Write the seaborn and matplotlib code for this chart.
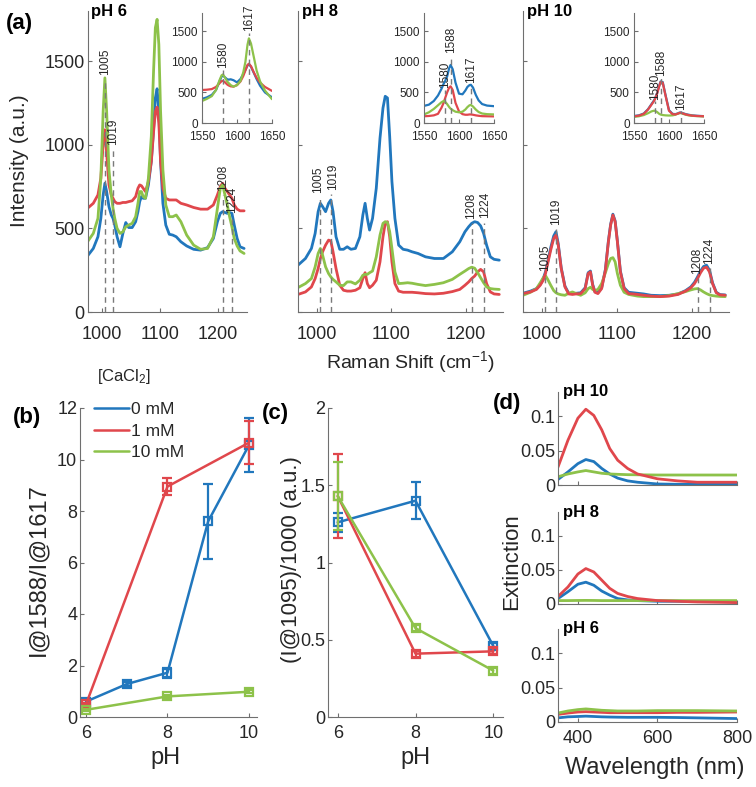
import matplotlib
matplotlib.use("Agg")
import matplotlib.pyplot as plt
import seaborn as sns
from matplotlib.lines import Line2D

# ---------------- data ----------------
# (a) Raman spectra, x in cm-1, intensity in a.u.
RAMAN_X = [975, 985, 993, 998, 1002, 1005, 1008, 1012, 1016, 1019, 1022, 1026, 1031,
           1036, 1041, 1046, 1052, 1058, 1062, 1065, 1068, 1071, 1075, 1080, 1085,
           1089, 1092, 1095, 1098, 1101, 1105, 1110, 1116, 1122, 1128, 1136, 1146,
           1158, 1170, 1182, 1192, 1199, 1204, 1208, 1212, 1216, 1220, 1224, 1228,
           1233, 1238, 1245]

PH6_BLUE = [335, 380, 450, 560, 700, 770, 720, 630, 580, 560, 520, 450, 390,
            470, 535, 505, 505, 540, 600, 660, 690, 680, 680, 760, 900,
            1100, 1280, 1335, 1200, 900, 650, 520, 465, 460, 450, 420, 395,
            375, 370, 385, 440, 540, 590, 600, 595, 590, 595, 590, 520,
            440, 390, 380]
PH6_RED = [620, 650, 700, 800, 1000, 1090, 950, 760, 700, 680, 660, 650, 650,
           655, 655, 660, 665, 690, 740, 760, 755, 740, 720, 780, 900,
           1080, 1200, 1225, 1130, 900, 740, 680, 670, 670, 670, 650, 640,
           625, 615, 615, 640, 700, 750, 770, 740, 720, 700, 680, 640,
           615, 605, 605]
PH6_GREEN = [420, 470, 560, 800, 1200, 1400, 1200, 850, 700, 620, 560, 500, 470,
             480, 510, 520, 530, 570, 650, 720, 720, 690, 680, 800, 1050,
             1450, 1700, 1750, 1600, 1200, 850, 640, 570, 570, 580, 540, 460,
             400, 375, 380, 450, 620, 740, 760, 700, 640, 570, 510, 440,
             395, 365, 350]

PH8_BLUE = [280, 320, 380, 470, 600, 650, 630, 600, 650, 670, 600, 450, 375,
            375, 390, 375, 380, 450, 580, 650, 560, 490, 560, 740, 1040,
            1220, 1290, 1280, 1050, 780, 560, 400, 375, 370, 360, 350, 330,
            320, 320, 360, 420, 480, 510, 530, 540, 535, 515, 470, 400,
            330, 315, 310]
PH8_RED = [105, 120, 150, 200, 260, 320, 360, 400, 430, 425, 360, 260, 160,
           130, 125, 125, 130, 145, 200, 235, 170, 145, 160, 190, 300,
           450, 530, 540, 450, 300, 170, 125, 118, 118, 118, 115, 110,
           108, 112, 122, 135, 160, 180, 200, 215, 240, 255, 240, 170,
           120, 108, 105]
PH8_GREEN = [146, 170, 200, 270, 350, 380, 340, 270, 230, 210, 195, 180, 160,
             158, 180, 180, 168, 190, 220, 225, 225, 235, 245, 330, 460,
             530, 540, 535, 480, 380, 240, 170, 172, 175, 172, 165, 158,
             165, 175, 195, 225, 245, 260, 268, 262, 235, 205, 175, 150,
             140, 137, 135]

PH10_BLUE = [112, 125, 140, 165, 200, 240, 300, 385, 455, 480, 410, 265, 155,
             112, 110, 112, 115, 145, 235, 245, 165, 122, 115, 145, 255,
             425, 525, 585, 545, 425, 245, 145, 118, 115, 112, 108, 100,
             98, 100, 108, 128, 150, 178, 210, 245, 272, 280, 250, 175,
             118, 104, 102]
PH10_RED = [110, 120, 135, 160, 190, 230, 290, 370, 440, 460, 400, 260, 150,
            108, 105, 108, 110, 140, 230, 240, 160, 118, 110, 140, 250,
            420, 520, 580, 540, 420, 240, 140, 110, 108, 105, 100, 95,
            92, 95, 105, 125, 145, 170, 200, 235, 262, 268, 240, 170,
            115, 102, 100]
PH10_GREEN = [100, 118, 140, 175, 205, 218, 195, 160, 128, 115, 108, 103, 100,
              112, 120, 110, 100, 115, 140, 148, 135, 128, 135, 170, 235,
              290, 320, 325, 300, 230, 160, 118, 105, 100, 95, 92, 92,
              92, 98, 110, 122, 132, 138, 140, 132, 120, 110, 102, 98,
              95, 93, 92]

# insets, 1550-1650 cm-1
INSET_X = [1550, 1557, 1564, 1570, 1575, 1578, 1580, 1583, 1586, 1588, 1591, 1595,
           1600, 1605, 1609, 1612, 1615, 1617, 1620, 1624, 1628, 1633, 1640, 1650]
IN6_BLUE = [395, 420, 460, 540, 680, 760, 775, 745, 715, 710, 715, 700,
            665, 720, 800, 870, 940, 960, 920, 820, 720, 610, 500, 420]
IN6_RED = [540, 545, 555, 590, 650, 685, 690, 665, 630, 615, 600, 595,
           620, 680, 770, 860, 950, 970, 930, 830, 740, 660, 590, 525]
IN6_GREEN = [360, 395, 440, 540, 700, 780, 795, 740, 680, 655, 620, 595,
             620, 690, 830, 1000, 1280, 1385, 1300, 1080, 860, 680, 530, 390]
IN8_BLUE = [280, 300, 360, 450, 560, 640, 680, 760, 900, 950, 880, 660,
            480, 470, 530, 590, 620, 625, 580, 460, 370, 310, 285, 275]
IN8_RED = [110, 115, 125, 150, 250, 330, 400, 500, 580, 600, 540, 330,
           190, 145, 135, 135, 140, 140, 135, 125, 118, 112, 110, 108]
IN8_GREEN = [140, 175, 230, 290, 340, 360, 350, 310, 260, 235, 210, 185,
             175, 185, 220, 260, 290, 295, 270, 220, 180, 155, 145, 140]
IN10_BLUE = [115, 125, 155, 225, 310, 360, 400, 490, 610, 680, 670, 460,
             210, 150, 145, 155, 170, 172, 160, 145, 135, 125, 118, 112]
IN10_RED = [110, 120, 150, 220, 300, 350, 390, 480, 600, 670, 660, 450,
            200, 145, 140, 150, 165, 168, 155, 140, 130, 120, 115, 110]
IN10_GREEN = [100, 110, 130, 160, 190, 200, 200, 180, 150, 138, 130, 125,
              122, 125, 135, 150, 160, 162, 150, 135, 125, 118, 112, 108]

PEAKS = [1005, 1019, 1208, 1224]
PEAK_Y6 = [1420, 1000, 725, 590]
PEAK_Y8 = [711, 730, 555, 560]
PEAK_Y10 = [247, 520, 228, 286]
IN_PEAKS6 = [1580, 1617]
IN_PEAK_Y6 = [900, 1500]
IN_PEAKS = [1580, 1588, 1617]
IN_PEAK_Y8 = [574, 1150, 656]
IN_PEAK_Y10 = [383, 765, 219]

# (b) I@1588/I@1617 vs pH
B_PH_BLUE = [6, 7, 8, 9, 10]
B_BLUE = [0.6, 1.28, 1.72, 7.6, 10.55]
B_BLUE_ERR = [0.08, 0.08, 0.2, 1.45, 1.05]
B_PH = [6, 8, 10]
B_RED = [0.5, 8.95, 10.65]
B_RED_ERR = [0.05, 0.32, 0.83]
B_GREEN = [0.28, 0.8, 0.98]
B_GREEN_ERR = [0.05, 0.06, 0.05]

# (c) (I@1095)/1000 vs pH
C_PH = [6, 8, 10]
C_BLUE = [1.26, 1.40, 0.46]
C_BLUE_ERR = [0.06, 0.12, 0.02]
C_RED = [1.43, 0.41, 0.425]
C_RED_ERR = [0.27, 0.02, 0.02]
C_GREEN = [1.43, 0.575, 0.30]
C_GREEN_ERR = [0.22, 0.02, 0.02]

# (d) extinction spectra
WL = [350, 375, 400, 420, 440, 460, 480, 500, 525, 550, 600, 650, 700, 800]
EXT10_RED = [0.026, 0.065, 0.097, 0.110, 0.101, 0.080, 0.053, 0.036, 0.024, 0.016, 0.009, 0.006, 0.004, 0.004]
EXT10_BLUE = [0.008, 0.019, 0.031, 0.037, 0.034, 0.024, 0.016, 0.010, 0.006, 0.004, 0.0015, 0.001, 0.001, 0.001]
EXT10_GREEN = [0.012, 0.016, 0.019, 0.021, 0.019, 0.017, 0.016, 0.0155, 0.015, 0.0148, 0.0145, 0.0145, 0.0145, 0.0145]
EXT8_RED = [0.011, 0.025, 0.044, 0.052, 0.047, 0.035, 0.023, 0.0155, 0.011, 0.008, 0.005, 0.004, 0.003, 0.002]
EXT8_BLUE = [0.008, 0.018, 0.029, 0.032, 0.0275, 0.019, 0.013, 0.008, 0.006, 0.005, 0.004, 0.004, 0.0035, 0.0035]
EXT8_GREEN = [0.005, 0.005, 0.0052, 0.0053, 0.0052, 0.005, 0.005, 0.005, 0.005, 0.005, 0.005, 0.005, 0.005, 0.005]
EXT6_RED = [0.011, 0.013, 0.0145, 0.015, 0.0145, 0.014, 0.0135, 0.0135, 0.0135, 0.0135, 0.0135, 0.014, 0.014, 0.0145]
EXT6_BLUE = [0.006, 0.0075, 0.008, 0.0085, 0.008, 0.0075, 0.0072, 0.007, 0.0068, 0.0068, 0.0068, 0.0065, 0.006, 0.005]
EXT6_GREEN = [0.013, 0.016, 0.018, 0.019, 0.018, 0.017, 0.0165, 0.016, 0.016, 0.016, 0.0165, 0.0165, 0.0165, 0.016]

LEGEND_LABELS = ["0 mM", "1 mM", "10 mM"]

# ---------------- style ----------------
sns.set_style("ticks")
plt.rcParams['font.family'] = ['Liberation Sans', 'DejaVu Sans']
plt.rcParams['mathtext.fontset'] = 'custom'
plt.rcParams['mathtext.rm'] = 'Liberation Sans'
plt.rcParams['mathtext.it'] = 'Liberation Sans:italic'

BLUE, RED, GREEN = "#2177BD", "#E0474C", "#8DC24A"
AX_GRAY = "#6f6f6f"
TXT = "#262626"
DASH = "#7a7a7a"
W, H = 756, 787

fig = plt.figure(figsize=(W / 100, H / 100), dpi=100)


def px_axes(left, top, right, bottom):
    return fig.add_axes([left / W, 1 - bottom / H, (right - left) / W, (bottom - top) / H])


def px_text(x, y, s, **kw):
    kw.setdefault("color", TXT)
    fig.text(x / W, 1 - y / H, s, ha=kw.pop("ha", "center"), va=kw.pop("va", "center"), **kw)


def style(ax, size=13, pad=2, xpad=6):
    sns.despine(ax=ax)
    for s in ["left", "bottom"]:
        ax.spines[s].set_color(AX_GRAY)
        ax.spines[s].set_linewidth(0.8)
    ax.tick_params(direction="in", length=3, width=0.8, color=AX_GRAY,
                   labelcolor=TXT, labelsize=size, pad=pad)
    ax.tick_params(axis="x", pad=xpad)
    ax.patch.set_alpha(0)
    ax.set_xlabel("")
    ax.set_ylabel("")


def spectrum(ax, x, series, lw=2.0):
    for y, c in series:
        sns.lineplot(x=x, y=y, ax=ax, color=c, lw=lw, legend=False)


def peak_marks(ax, xs, ys, size=8.5, gap=25, nudge=None):
    nudge = nudge or [0] * len(xs)
    for xp, yp, dx in zip(xs, ys, nudge):
        ax.plot([xp, xp], [0, yp - gap], color=DASH, lw=1, ls=(0, (4, 3)), zorder=5)
        ax.text(xp + dx, yp, str(xp), rotation=90, ha="center", va="bottom",
                fontsize=size, color=TXT, zorder=6)


# ---------------- (a) Raman ----------------
panels = [
    ("pH 6", (87.5, 11, 247, 312), [(PH6_BLUE, BLUE), (PH6_RED, RED), (PH6_GREEN, GREEN)], PEAK_Y6, None,
     (202, 13, 272, 123), [(IN6_BLUE, BLUE), (IN6_RED, RED), (IN6_GREEN, GREEN)], IN_PEAKS6, IN_PEAK_Y6, True),
    ("pH 8", (298, 11, 503, 312), [(PH8_BLUE, BLUE), (PH8_RED, RED), (PH8_GREEN, GREEN)], PEAK_Y8, [-2.5, 2.5, -1.5, 1.5],
     (424, 13, 494, 123), [(IN8_BLUE, BLUE), (IN8_RED, RED), (IN8_GREEN, GREEN)], IN_PEAKS, IN_PEAK_Y8, False),
    ("pH 10", (523, 11, 729, 312), [(PH10_BLUE, BLUE), (PH10_GREEN, GREEN), (PH10_RED, RED)], PEAK_Y10, None,
     (634, 13, 704, 123), [(IN10_BLUE, BLUE), (IN10_GREEN, GREEN), (IN10_RED, RED)], IN_PEAKS, IN_PEAK_Y10, False),
]

for title, box, series, peak_y, nudge, ibox, iseries, ipeaks, ipeak_y, show_y in panels:
    ax = px_axes(*box)
    spectrum(ax, RAMAN_X, series)
    peak_marks(ax, PEAKS, peak_y, size=8.5, nudge=nudge)
    ax.set_xlim(975, 1250)
    ax.set_ylim(0, 1800)
    ax.set_xticks([1000, 1100, 1200])
    ax.set_yticks([0, 500, 1000, 1500])
    style(ax, xpad=10)
    if not show_y:
        ax.set_yticklabels([])
    ax.text(0.02, 1.0, title, transform=ax.transAxes, fontsize=12, fontweight="bold",
            ha="left", va="center", color="black")

    iax = px_axes(*ibox)
    spectrum(iax, INSET_X, iseries, lw=1.6)
    peak_marks(iax, ipeaks, ipeak_y, size=8.5, gap=30)
    iax.set_xlim(1550, 1650)
    iax.set_ylim(0, 1800)
    iax.set_xticks([1550, 1600, 1650])
    iax.set_yticks([0, 500, 1000, 1500])
    style(iax, size=8.5, pad=3, xpad=6)

px_text(19, 24, "(a)", fontsize=16, fontweight="bold", color="black")
px_text(20, 161, "Intensity (a.u.)", fontsize=15, rotation=90)
px_text(410, 362, "Raman Shift (cm$^{-1}$)", fontsize=14)

# ---------------- (b) ----------------
axb = px_axes(80, 408, 257, 717)
for xs, ys, es, c in [(B_PH_BLUE, B_BLUE, B_BLUE_ERR, BLUE),
                      (B_PH, B_RED, B_RED_ERR, RED),
                      (B_PH, B_GREEN, B_GREEN_ERR, GREEN)]:
    sns.lineplot(x=xs, y=ys, ax=axb, color=c, lw=1.8, marker="s", markersize=6,
                 markerfacecolor="none", markeredgecolor=c, markeredgewidth=1.6, legend=False)
    axb.errorbar(xs, ys, yerr=es, fmt="none", ecolor=c, elinewidth=1.6, capsize=3.5, capthick=1.6)
axb.set_xlim(5.85, 10.2)
axb.set_ylim(0, 12)
axb.set_xticks([6, 8, 10])
axb.set_yticks([0, 2, 4, 6, 8, 10, 12])
style(axb)
handles = [Line2D([], [], color=c, lw=1.8) for c in (BLUE, RED, GREEN)]
axb.legend(handles, LEGEND_LABELS, loc="upper left", bbox_to_anchor=(0.08, 1.02), frameon=False,
           fontsize=12.5, handlelength=2.0, handletextpad=0.15, labelspacing=0.38,
           borderpad=0, borderaxespad=0, labelcolor=TXT)
px_text(124, 377, "[CaCl$_2$]", fontsize=12)
px_text(27, 418, "(b)", fontsize=16, fontweight="bold", color="black")
px_text(38, 570, "I@1588/I@1617", fontsize=17, rotation=90)
px_text(166, 758, "pH", fontsize=17)

# ---------------- (c) ----------------
axc = px_axes(328, 408, 503, 717)
for ys, es, c in [(C_BLUE, C_BLUE_ERR, BLUE), (C_RED, C_RED_ERR, RED), (C_GREEN, C_GREEN_ERR, GREEN)]:
    sns.lineplot(x=C_PH, y=ys, ax=axc, color=c, lw=1.8, marker="s", markersize=6,
                 markerfacecolor="none", markeredgecolor=c, markeredgewidth=1.6, legend=False)
    axc.errorbar(C_PH, ys, yerr=es, fmt="none", ecolor=c, elinewidth=1.6, capsize=3.5, capthick=1.6)
axc.set_xlim(5.75, 10.25)
axc.set_ylim(0, 2)
axc.set_xticks([6, 8, 10])
axc.set_yticks([0, 0.5, 1, 1.5, 2])
axc.set_yticklabels(["0", "0.5", "1", "1.5", "2"])
style(axc)
px_text(275, 413, "(c)", fontsize=16, fontweight="bold", color="black")
px_text(292, 560, "(I@1095)/1000 (a.u.)", fontsize=16, rotation=90)
px_text(415, 758, "pH", fontsize=17)

# ---------------- (d) ----------------
d_panels = [("pH 10", (558, 392, 737, 485), [(EXT10_BLUE, BLUE), (EXT10_GREEN, GREEN), (EXT10_RED, RED)]),
            ("pH 8", (558, 512, 737, 604), [(EXT8_BLUE, BLUE), (EXT8_GREEN, GREEN), (EXT8_RED, RED)]),
            ("pH 6", (558, 629, 737, 722), [(EXT6_BLUE, BLUE), (EXT6_RED, RED), (EXT6_GREEN, GREEN)])]
for i, (title, box, series) in enumerate(d_panels):
    ax = px_axes(*box)
    spectrum(ax, WL, series, lw=2.0)
    ax.set_xlim(350, 800)
    ax.set_ylim(0, 0.135)
    ax.set_xticks([400, 600, 800])
    ax.set_yticks([0, 0.05, 0.1])
    ax.set_yticklabels(["0", "0.05", "0.1"])
    style(ax)
    if i < 2:
        ax.set_xticklabels([])
    ax.text(0.03, 1.0, title, transform=ax.transAxes, fontsize=12, fontweight="bold",
            ha="left", va="center", color="black")

px_text(507, 403, "(d)", fontsize=16, fontweight="bold", color="black")
px_text(512, 562, "Extinction", fontsize=16, rotation=90)
px_text(655, 768, "Wavelength (nm)", fontsize=17)

fig.savefig("out.png", dpi=100)
